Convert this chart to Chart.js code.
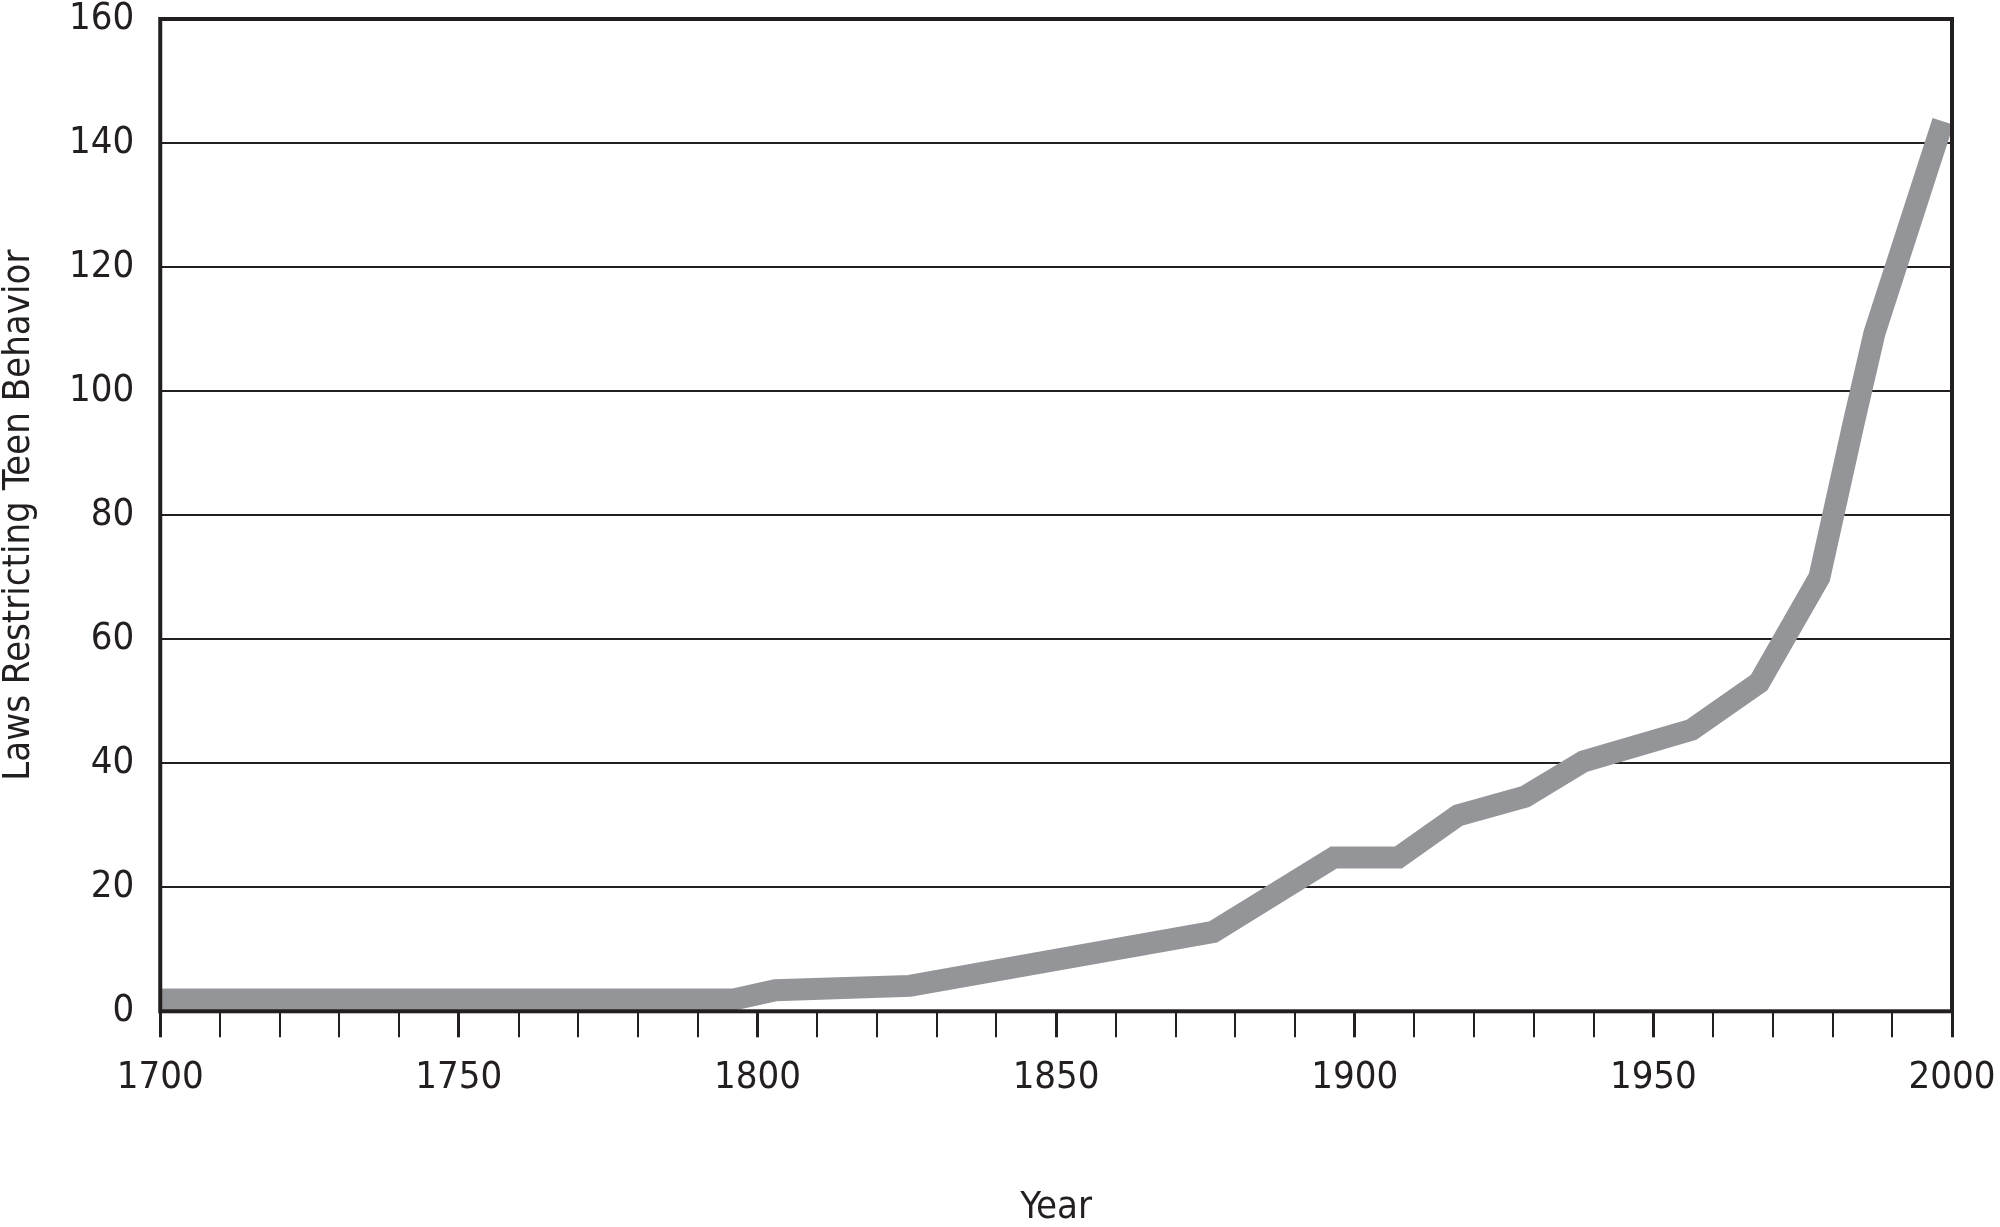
<!DOCTYPE html>
<html>
<head>
<meta charset="utf-8">
<title>Laws Restricting Teen Behavior</title>
<script src="https://cdn.jsdelivr.net/npm/chart.js@4/dist/chart.umd.min.js"></script>
<style>
  html, body { margin: 0; padding: 0; background: #ffffff; }
  #wrap { width: 2000px; height: 1227px; }
</style>
</head>
<body>
<div id="wrap"><canvas id="lawsChart" width="2000" height="1227"></canvas></div>
<script>
const YEARS = [1700, 1796, 1803, 1825.5, 1876.3, 1896.5, 1907.3, 1917.3, 1928.5, 1938.3, 1956.4, 1967.7, 1977.8, 1983.5, 1987, 1998.5];
const LAWS = [1.9, 1.9, 3.4, 4.1, 12.8, 24.8, 24.8, 31.6, 34.6, 40.3, 45.4, 53.0, 70.0, 94.7, 109.3, 143.5];
const X_RANGE = [1700, 2000];
const Y_RANGE = [0, 160];
const X_LABEL_EVERY = 50;

const INK = "#231f20";
const LINE_GREY = "#939598";
const FONT = "'Liberation Sans Narrow', 'DejaVu Sans Condensed', 'Roboto', sans-serif";

// outline of the plot box, drawn over the line like the printed figure
const frame = {
  id: "frame",
  afterDatasetsDraw(chart) {
    const { ctx, chartArea: a } = chart;
    ctx.save();
    ctx.strokeStyle = INK;
    ctx.lineWidth = 4;
    ctx.strokeRect(a.left, a.top, a.right - a.left, a.bottom - a.top);
    ctx.restore();
  },
};

new Chart(document.getElementById("lawsChart"), {
  type: "line",
  data: {
    datasets: [
      {
        label: "Laws Restricting Teen Behavior",
        data: YEARS.map((y, i) => ({ x: y, y: LAWS[i] })),
        borderColor: LINE_GREY,
        borderWidth: 22,
        borderCapStyle: "butt",
        borderJoinStyle: "miter",
        pointRadius: 0,
        tension: 0,
        fill: false,
      },
    ],
  },
  options: {
    responsive: false,
    animation: false,
    layout: { autoPadding: false, padding: { left: 0, right: 48, top: 0, bottom: 0 } },
    plugins: { legend: { display: false }, tooltip: { enabled: false } },
    scales: {
      x: {
        type: "linear",
        min: X_RANGE[0],
        max: X_RANGE[1],
        border: { display: false },
        grid: {
          drawOnChartArea: false,
          drawTicks: true,
          tickLength: 26,
          color: INK,
          lineWidth: (c) => (c.tick && c.tick.value % X_LABEL_EVERY === 0 ? 3 : 2),
        },
        ticks: {
          stepSize: 10,
          autoSkip: false,
          maxRotation: 0,
          padding: 0,
          color: INK,
          // tall line box pushes the year labels down from the tick marks
          font: { family: FONT, size: 38, lineHeight: 2.15 },
          callback: (v) => (v % X_LABEL_EVERY === 0 ? String(v) : ""),
        },
        title: {
          display: true,
          text: "Year",
          color: INK,
          font: { family: FONT, size: 38, lineHeight: 1 },
          padding: { top: 70, bottom: 0 },
        },
      },
      y: {
        min: Y_RANGE[0],
        max: Y_RANGE[1],
        border: { display: false },
        grid: { color: INK, lineWidth: 2, drawTicks: true, tickLength: 26, tickColor: "rgba(0,0,0,0)" },
        ticks: {
          stepSize: 20,
          padding: 0,
          color: INK,
          font: { family: FONT, size: 38, lineHeight: 1 },
        },
        title: {
          display: true,
          text: "Laws Restricting Teen Behavior",
          color: INK,
          font: { family: FONT, size: 38, lineHeight: 1 },
          padding: { top: 0, bottom: 31 },
        },
      },
    },
  },
  plugins: [frame],
});
</script>
</body>
</html>
